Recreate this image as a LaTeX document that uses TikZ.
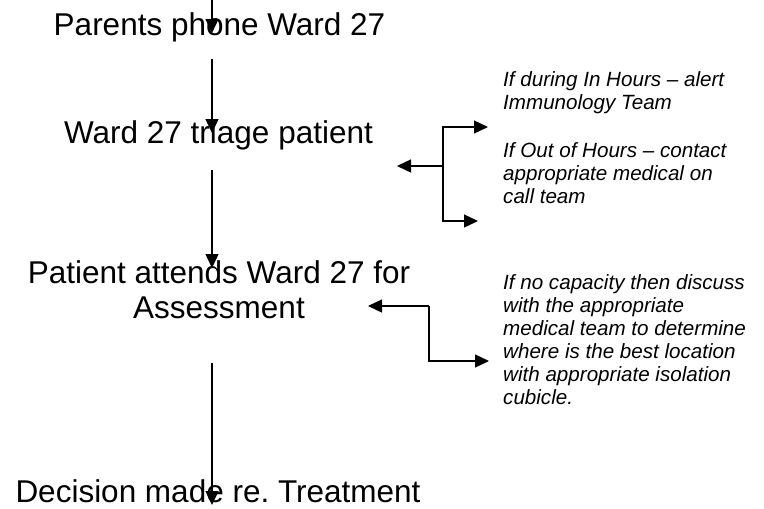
\documentclass[tikz,border=0pt]{standalone}
\usepackage{fontspec}
\setmainfont{Liberation Sans}
\usetikzlibrary{arrows.meta,positioning}

\begin{document}
\begin{tikzpicture}[x=1pt,y=-1pt]
\tikzstyle{stage}=[inner sep=0pt, align=center, font=\fontsize{31.5}{35}\selectfont]
\tikzstyle{note}=[inner sep=0pt, align=left, font=\fontsize{20.6}{23}\selectfont\itshape]
\tikzstyle{flow}=[line width=1.4pt, -{Triangle[length=14pt,width=13pt]}]
\useasboundingbox (0,0) rectangle (764,509);

\node[stage, anchor=base] (0) at (219.5,35) {Parents phone Ward 27};
\node[stage, anchor=base] (1) at (218.5,143) {Ward 27 triage patient};
\node[stage, anchor=base] (2) at (219,318) {Patient attends Ward 27 for\\Assessment};
\node[stage, anchor=base] (3) at (218,502) {Decision made re.\ Treatment};

\node[note, anchor=base west] (4) at (503,109) {If during In Hours -- alert\\Immunology Team};
\node[note, anchor=base west] (5) at (503,203) {If Out of Hours -- contact\\appropriate medical on\\call team};
\node[note, anchor=base west] (6) at (503,404) {If no capacity then discuss\\with the appropriate\\medical team to determine\\where is the best location\\with appropriate isolation\\cubicle.};

\coordinate (top) at (212,0);
\draw[flow] (top) -- ([yshift=2pt]top |- 0.base);
\draw[flow] ([yshift=-24pt]top |- 0.base) -- ([yshift=10pt]top |- 1.base);
\draw[flow] ([yshift=-27pt]top |- 1.base) -- ([yshift=50pt]top |- 2.base);
\draw[flow] ([yshift=-44pt]top |- 2.south) -- ([yshift=-3pt]top |- 3.base);

% brackets to the notes
\coordinate (j1) at (443,166);
\coordinate (l1) at (397,166);
\coordinate (u1) at (488,127);
\coordinate (d1) at (478,221);
\draw[flow] (j1) -- (l1);
\draw[flow] (j1) |- (u1);
\draw[flow] (j1) |- (d1);

\coordinate (j2) at (429,306);
\coordinate (l2) at (368,306);
\coordinate (d2) at (489,361);
\draw[flow] (j2) -- (l2);
\draw[flow] (j2) |- (d2);

\end{tikzpicture}
\end{document}
